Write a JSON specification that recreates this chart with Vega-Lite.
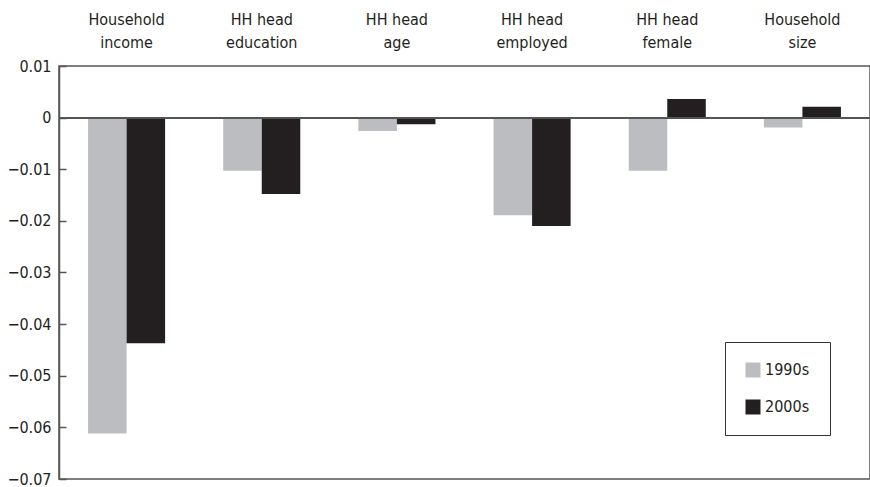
{
  "$schema": "https://vega.github.io/schema/vega-lite/v6.json",
  "autosize": "none",
  "width": 811,
  "height": 413,
  "padding": {"left": 59, "top": 66, "right": 0, "bottom": 8},
  "background": "white",
  "config": {
    "font": "Liberation Sans Narrow, DejaVu Sans Condensed, sans-serif",
    "view": {"stroke": "#555555", "strokeWidth": 1.5}
  },
  "data": {
    "values": [
      {"variable": "Household|income", "decade": "1990s", "value": -0.0612},
      {"variable": "Household|income", "decade": "2000s", "value": -0.0437},
      {"variable": "HH head|education", "decade": "1990s", "value": -0.0103},
      {"variable": "HH head|education", "decade": "2000s", "value": -0.0148},
      {"variable": "HH head|age", "decade": "1990s", "value": -0.0026},
      {"variable": "HH head|age", "decade": "2000s", "value": -0.0013},
      {"variable": "HH head|employed", "decade": "1990s", "value": -0.0189},
      {"variable": "HH head|employed", "decade": "2000s", "value": -0.0210},
      {"variable": "HH head|female", "decade": "1990s", "value": -0.0103},
      {"variable": "HH head|female", "decade": "2000s", "value": 0.0036},
      {"variable": "Household|size", "decade": "1990s", "value": -0.0019},
      {"variable": "Household|size", "decade": "2000s", "value": 0.0021}
    ]
  },
  "layer": [
    {
      "mark": {"type": "bar"},
      "encoding": {
        "x": {
          "field": "variable",
          "type": "nominal",
          "sort": null,
          "scale": {"paddingInner": 0.43, "paddingOuter": 0.215},
          "axis": {
            "orient": "top",
            "title": null,
            "labelAngle": 0,
            "labelExpr": "split(datum.value, '|')",
            "labelFontSize": 16,
            "labelColor": "#231f20",
            "labelLineHeight": 23,
            "labelPadding": 39,
            "ticks": false,
            "domain": false
          }
        },
        "xOffset": {"field": "decade", "type": "nominal"},
        "y": {
          "field": "value",
          "type": "quantitative",
          "scale": {"domain": [-0.07, 0.01], "nice": false, "zero": false},
          "axis": {
            "title": null,
            "values": [-0.07, -0.06, -0.05, -0.04, -0.03, -0.02, -0.01, 0, 0.01],
            "labelExpr": "datum.value == 0 ? '0' : format(datum.value, '.2f')",
            "labelFontSize": 16,
            "labelColor": "#231f20",
            "labelPadding": 15,
            "tickSize": -7,
            "tickColor": "#555555",
            "tickWidth": 1.5,
            "domainColor": "#555555",
            "domainWidth": 1.5,
            "grid": false
          }
        },
        "color": {
          "field": "decade",
          "type": "nominal",
          "scale": {"domain": ["1990s", "2000s"], "range": ["#bcbdc0", "#231f20"]},
          "legend": {
            "title": null,
            "orient": "none",
            "legendX": 666,
            "legendY": 276,
            "symbolType": "square",
            "symbolSize": 225,
            "symbolStrokeWidth": 0,
            "labelFontSize": 16,
            "labelColor": "#231f20",
            "rowPadding": 21,
            "padding": 20,
            "strokeColor": "#333333",
            "fillColor": "white"
          }
        }
      }
    },
    {
      "mark": {"type": "rule", "color": "#555555", "strokeWidth": 1.5},
      "encoding": {"y": {"datum": 0}}
    }
  ]
}
